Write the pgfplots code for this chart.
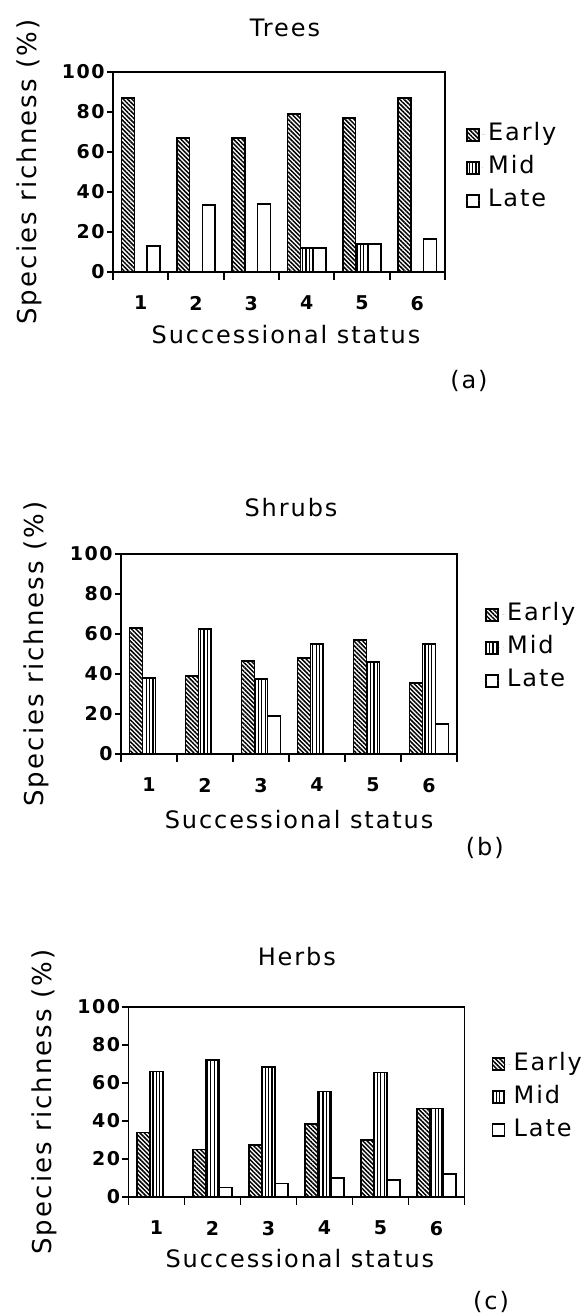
\documentclass[border=0pt]{standalone}
\usepackage{fontspec}
\setmainfont{DejaVu Sans}[LetterSpace=8]
\usepackage{pgfplots}
\pgfplotsset{compat=1.18}
\usetikzlibrary{patterns.meta}

\tikzset{
  earlyp/.style={pattern={Lines[angle=-45,distance=1.55pt,line width=0.75pt]}},
  midp/.style={pattern={Lines[angle=90,distance=1.7pt,line width=0.6pt]}},
}

\pgfplotsset{
  lg/.style={legend image code/.code={\draw[##1,line width=0.75pt] (0pt,-3pt) rectangle (6pt,3pt); \path[draw=none] (0pt,0pt) -- (9.5pt,0pt);}},
  bearly/.style={ybar, bar width=0.23, bar shift=-0.23, draw=black, line width=0.75pt, earlyp, lg},
  bmid/.style={ybar, bar width=0.23, bar shift=0, draw=black, line width=0.75pt, midp, lg},
  blate/.style={ybar, bar width=0.23, bar shift=0.23, draw=black, line width=0.75pt, fill=white, lg},
  panel/.style={
    scale only axis,
    xmin=0.5, xmax=6.5, ymin=0, ymax=100,
    xtick={1,...,6}, minor xtick={0.5,1.5,...,6.5},
    ytick={0,20,...,100},
    tick align=outside, tick pos=left,
    major tick length=3pt, minor tick length=4pt,
    tick style={black, line width=0.9pt},
    major x tick style={draw=none},
    axis line style={line width=0.9pt},
    /pgf/number format/assume math mode=true,
    ticklabel style={font=\fontsize{9.5}{11}\selectfont\bfseries},
    xticklabel style={yshift=-5.5pt},
    yticklabel style={inner sep=1pt},
    ylabel style={font=\fontsize{13}{15}\selectfont, at={(axis description cs:-0.252,0.5)}, anchor=center},
    xlabel style={font=\fontsize{12}{14}\selectfont, anchor=center},
    title style={font=\fontsize{12}{14}\selectfont, anchor=center},
    legend style={draw=none, fill=none, anchor=west, inner sep=0pt,
      font=\fontsize{12}{14}\selectfont, row sep=2.5pt,
      nodes={text height=9pt, text depth=3pt, inner sep=1pt}},
    legend cell align=left,
    clip=false,
    ylabel={Species richness (\%)},
    xlabel={Successional status},
  },
}

\begin{document}
\begin{tikzpicture}
\path[use as bounding box] (0,0) rectangle (293pt,656.5pt);

% (a) Trees
\begin{axis}[panel, at={(56.5pt,520.5pt)}, anchor=south west, width=166pt, height=100pt,
  title={Trees}, title style={at={(axis description cs:0.518,1)}, yshift=16pt},
  xlabel style={at={(axis description cs:0.521,0)}, yshift=-31.5pt},
  legend style={at={(axis description cs:1,0.52)}, xshift=10.5pt}]
\addplot[bearly] coordinates {(1,87) (2,67) (3,67) (4,79) (5,77) (6,87)};
\addplot[bmid] coordinates {(4,12) (5,14)};
\addplot[blate] coordinates {(1,13) (2,33.5) (3,34) (4,12) (5,14) (6,16.5)};
\legend{Early,Mid,Late}
\node at (rel axis cs:1.072,-0.545) {\fontsize{12}{14}\selectfont (a)};
\end{axis}

% (b) Shrubs
\begin{axis}[panel, at={(60.5pt,279.5pt)}, anchor=south west, width=168pt, height=100pt,
  title={Shrubs}, title style={at={(axis description cs:0.506,1)}, yshift=17pt},
  xlabel style={at={(axis description cs:0.53,0)}, yshift=-33pt},
  legend style={at={(axis description cs:1,0.53)}, xshift=14pt}]
\addplot[bearly] coordinates {(1,63) (2,39) (3,46.5) (4,48) (5,57) (6,35.5)};
\addplot[bmid] coordinates {(1,38) (2,62.5) (3,37.5) (4,55) (5,46) (6,55)};
\addplot[blate] coordinates {(3,19) (6,15)};
\legend{Early,Mid,Late}
\node at (rel axis cs:1.083,-0.47) {\fontsize{12}{14}\selectfont (b)};
\end{axis}

% (c) Herbs
\begin{axis}[panel, at={(64.25pt,58pt)}, anchor=south west, width=168pt, height=95pt,
  title={Herbs}, title style={at={(axis description cs:0.501,1)}, yshift=19pt},
  xlabel style={at={(axis description cs:0.51,0)}, yshift=-31pt},
  legend style={at={(axis description cs:1,0.526)}, xshift=13.5pt}]
\addplot[bearly] coordinates {(1,34) (2,25) (3,27.5) (4,38.5) (5,30) (6,46.5)};
\addplot[bmid] coordinates {(1,66) (2,72) (3,68.5) (4,55.5) (5,65.5) (6,46.5)};
\addplot[blate] coordinates {(2,5) (3,7) (4,10) (5,9) (6,12)};
\legend{Early,Mid,Late}
\node at (rel axis cs:1.079,-0.553) {\fontsize{12}{14}\selectfont (c)};
\end{axis}
\end{tikzpicture}
\end{document}
